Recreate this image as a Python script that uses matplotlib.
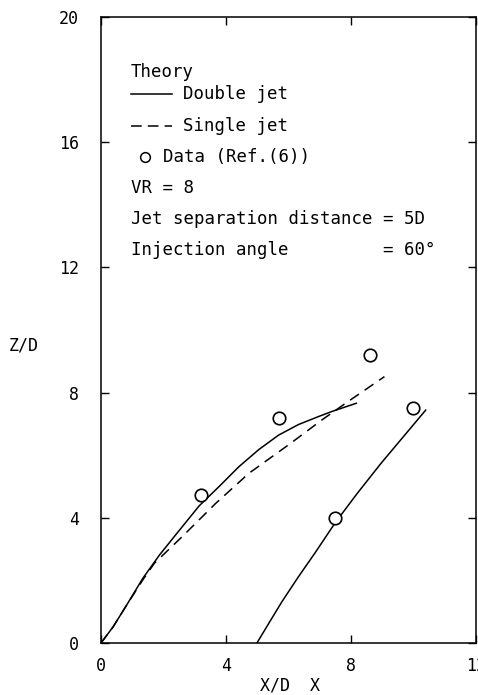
import matplotlib.pyplot as plt
from matplotlib.lines import Line2D

# Double jet theory, upstream jet
double_up_x = [0, 0.39, 0.82, 1.34, 1.87, 2.45, 3.14, 3.8, 4.41, 5.05,
               5.68, 6.32, 7.0, 7.37, 8.17]
double_up_y = [0, 0.52, 1.21, 2.07, 2.81, 3.53, 4.38, 5.02, 5.63, 6.18,
               6.64, 6.98, 7.25, 7.39, 7.66]

# Double jet theory, downstream jet
double_dn_x = [4.99, 5.37, 5.79, 6.32, 6.85, 7.5, 8.2, 8.96, 9.7, 10.39]
double_dn_y = [0, 0.63, 1.32, 2.12, 2.88, 3.85, 4.78, 5.74, 6.62, 7.44]

# Single jet theory
single_x = [0, 0.39, 0.82, 1.34, 1.71, 2.6, 3.67, 4.73, 6.0, 7.06, 7.9, 9.07]
single_y = [0, 0.52, 1.21, 2.02, 2.55, 3.40, 4.46, 5.42, 6.33, 7.12, 7.71, 8.51]

# Experimental data (Ref.(6))
data_x = [3.20, 5.70, 8.62, 7.50, 9.99]
data_y = [4.73, 7.18, 9.20, 3.98, 7.50]

xticks = [0, 4, 8, 12]
yticks = [0, 4, 8, 12, 16, 20]

mono = "DejaVu Sans Mono"
plt.rcParams['font.family'] = mono

fig = plt.figure(figsize=(4.78, 6.95), dpi=100)
ax = fig.add_axes([101 / 478, 1 - 643 / 695, 375 / 478, 626 / 695])

ax.plot(double_up_x, double_up_y, color='black', lw=1.1)
ax.plot(double_dn_x, double_dn_y, color='black', lw=1.1)
ax.plot(single_x, single_y, color='black', lw=1.1, dashes=(7, 4.5))
ax.plot(data_x, data_y, 'o', ms=9, mfc='white', mec='black', mew=1.2)

ax.set_xlim(0, 12)
ax.set_ylim(0, 20)
ax.set_xticks(xticks)
ax.set_yticks(yticks)
ax.tick_params(direction='in', top=True, right=True, length=6, width=1,
               labelsize=12)
ax.tick_params(axis='y', pad=16)
ax.tick_params(axis='x', pad=10)
for s in ax.spines.values():
    s.set_linewidth(1.1)

# legend-like annotation block
tr = ax.transAxes
fs = 12.5
ax.text(0.08, 0.912, "Theory", transform=tr, fontsize=fs, va='center')
ax.add_line(Line2D([0.08, 0.189], [0.877, 0.877], transform=tr,
                   color='black', lw=1.1))
ax.text(0.219, 0.877, "Double jet", transform=tr, fontsize=fs, va='center')
ax.add_line(Line2D([0.08, 0.189], [0.826, 0.826], transform=tr,
                   color='black', lw=1.1, dashes=(7, 4)))
ax.text(0.219, 0.826, "Single jet", transform=tr, fontsize=fs, va='center')
ax.add_line(Line2D([0.117], [0.776], transform=tr, marker='o', ms=7,
                   mfc='white', mec='black', mew=1.1, ls='none'))
ax.text(0.165, 0.776, "Data (Ref.(6))", transform=tr, fontsize=fs, va='center')
ax.text(0.08, 0.727, "VR = 8", transform=tr, fontsize=fs, va='center')
ax.text(0.08, 0.677, "Jet separation distance = 5D", transform=tr,
        fontsize=fs, va='center')
ax.text(0.08, 0.628, "Injection angle         = 60°", transform=tr,
        fontsize=fs, va='center')

fig.text(9 / 478, 1 - 345 / 695, "Z/D", fontsize=12, va='center', ha='left')
fig.text(260 / 478, 1 - 685 / 695, "X/D  X", fontsize=12, va='center',
         ha='left')

fig.savefig("out.png", dpi=100)
